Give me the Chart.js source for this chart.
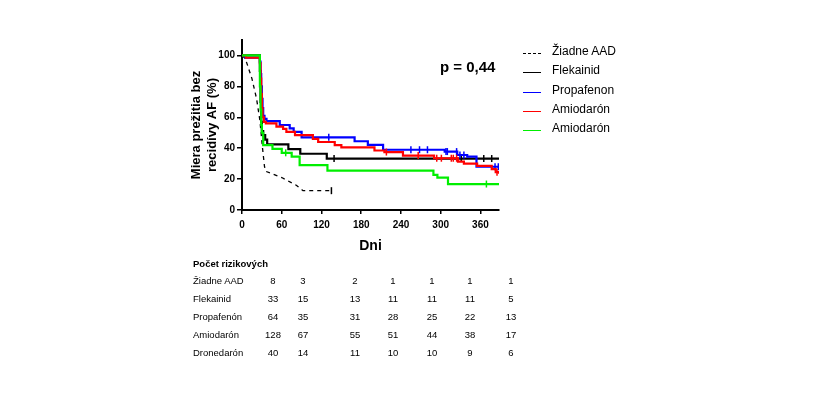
<!DOCTYPE html>
<html lang="sk">
<head>
    <meta charset="UTF-8">
    <title>Miera prežitia bez recidívy AF</title>
    <script src="https://cdn.jsdelivr.net/npm/chart.js"></script>
    <style>
        body {
            margin: 0;
            padding: 0;
            background: #fff;
            font-family: "Liberation Sans", Arial, sans-serif;
        }
        #wrap {
            position: relative;
            width: 821px;
            height: 398px;
        }
        #km {
            position: absolute;
            left: 0;
            top: 0;
        }
        .pval {
            position: absolute;
            left: 440px;
            top: 58px;
            font-size: 15px;
            font-weight: bold;
            color: #000;
        }
        .leg-line {
            position: absolute;
            width: 18px;
            height: 0;
        }
        .leg-text {
            position: absolute;
            font-size: 12px;
            line-height: 14px;
            color: #000;
        }
        .tbl {
            position: absolute;
            font-size: 9.5px;
            line-height: 12px;
            color: #000;
            white-space: nowrap;
        }
        .tbl.num {
            transform: translateX(-50%);
        }
    </style>
</head>
<body>
<div id="wrap">
    <canvas id="km" width="821" height="398"></canvas>
    <div class="pval">p = 0,44</div>
</div>
<script>
    // axis ticks
    const dayTicks = [0, 60, 120, 180, 240, 300, 360];
    const survTicks = [0, 20, 40, 60, 80, 100];

    // legend labels (as printed on the figure)
    const seriesNames = ['Žiadne AAD', 'Flekainid', 'Propafenon', 'Amiodarón', 'Amiodarón'];
    const seriesColors = ['#000000', '#000000', '#0000ff', '#ff0000', '#00ee00'];

    // Žiadne AAD (dashed)
    const aadT = [0, 5, 15, 22, 27, 31, 34, 36, 60, 82, 92, 135];
    const aadS = [100, 98, 85, 72, 58, 40, 28, 25, 21, 16, 12.5, 12.5];
    const aadCens = [135];

    // Flekainid
    const flekT = [0, 27, 28, 29, 30, 32, 35, 38, 70, 88, 128, 388];
    const flekS = [100, 90, 70, 57, 51, 48.5, 45.5, 42.4, 39.4, 36.4, 33.3, 33.3];
    const flekCens = [139, 331, 365, 377];

    // Propafenon
    const propT = [0, 5, 27, 28, 29, 30, 31, 32, 34, 37, 57, 72, 78, 90, 170, 190, 213, 306, 325, 340, 354, 388];
    const propS = [100, 98.5, 96, 88, 80, 72, 66, 61, 59, 57.5, 55, 52.8, 50.6, 47, 44.5, 42.2, 39, 37.8, 35.6, 34.5, 28, 28];
    const propCens = [131, 255, 268, 280, 308, 310, 324, 329, 335, 382, 387];

    // Amiodarón
    const amioT = [0, 6, 27, 28, 29, 30, 31, 33, 36, 52, 62, 67, 80, 107, 115, 140, 150, 200, 215, 243, 290, 326, 335, 355, 377, 383, 388];
    const amioS = [100, 98.5, 95, 85, 75, 66, 60, 57, 56, 54, 52.5, 50.5, 48.5, 46, 44, 42, 40.5, 38.5, 37.5, 35.2, 33.5, 31.3, 30, 28.5, 26.5, 24.5, 23.5];
    const amioCens = [218, 266, 294, 301, 316, 319, 324, 385];

    // Dronedarón (green)
    const droT = [0, 27, 28, 29, 30, 32, 46, 60, 75, 87, 129, 289, 295, 311, 388];
    const droS = [100, 80, 65, 55, 50, 42, 39.5, 37, 34.5, 29, 25.5, 22.7, 21, 16.8, 16.8];
    const droCens = [66, 369];

    // risk table
    const riskTitle = 'Počet rizikových';
    const riskRows = ['Žiadne AAD', 'Flekainid', 'Propafenón', 'Amiodarón', 'Dronedarón'];
    const riskAad = [8, 3, 2, 1, 1, 1, 1];
    const riskFlek = [33, 15, 13, 11, 11, 11, 5];
    const riskProp = [64, 35, 31, 28, 25, 22, 13];
    const riskAmio = [128, 67, 55, 51, 44, 38, 17];
    const riskDro = [40, 14, 11, 10, 10, 9, 6];

    function pts(t, s) {
        return t.map((v, i) => ({ x: v, y: s[i] }));
    }
    // survival value at a censor time
    function censPts(cens, t, s) {
        return cens.map(c => {
            let y = s[0];
            for (let i = 0; i < t.length; i++) if (t[i] <= c) y = s[i];
            return { x: c, y: y };
        });
    }

    const curveSets = [
        [aadT, aadS, aadCens],
        [flekT, flekS, flekCens],
        [propT, propS, propCens],
        [amioT, amioS, amioCens],
        [droT, droS, droCens]
    ];

    const datasets = [];
    curveSets.forEach((c, i) => {
        datasets.push({
            label: seriesNames[i],
            data: pts(c[0], c[1]),
            borderColor: seriesColors[i],
            borderWidth: i === 0 ? 1.3 : 2.2,
            borderDash: i === 0 ? [4, 4] : [],
            stepped: i === 0 ? false : 'before',
            pointRadius: 0,
            fill: false,
            order: 5 - i
        });
        datasets.push({
            label: seriesNames[i] + ' cens',
            data: censPts(c[2], c[0], c[1]),
            showLine: false,
            pointStyle: 'line',
            rotation: 90,
            pointRadius: 3.5,
            pointBorderWidth: 1.5,
            borderColor: seriesColors[i],
            backgroundColor: seriesColors[i],
            order: 5 - i
        });
    });

    new Chart(document.getElementById('km'), {
        type: 'line',
        data: { datasets: datasets },
        options: {
            responsive: false,
            animation: false,
            layout: { padding: { left: 188, right: 322, top: 40, bottom: 143 } },
            plugins: {
                legend: { display: false },
                tooltip: { enabled: false }
            },
            scales: {
                x: {
                    type: 'linear',
                    min: 0,
                    max: 388,
                    afterBuildTicks: s => { s.ticks = dayTicks.map(v => ({ value: v })); },
                    afterFit: s => { s.height = 45; },
                    grid: { drawOnChartArea: false, drawTicks: true, tickLength: 4, color: '#000', lineWidth: 1.5 },
                    border: { color: '#000', width: 2 },
                    ticks: { color: '#000', padding: 5, font: { family: 'Liberation Sans, Arial', size: 10, weight: 'bold' } },
                    title: {
                        display: true,
                        text: 'Dni',
                        color: '#000',
                        padding: { top: 0, bottom: 0 },
                        font: { family: 'Liberation Sans, Arial', size: 14, weight: 'bold' }
                    }
                },
                y: {
                    min: 0,
                    max: 110,
                    afterBuildTicks: s => { s.ticks = survTicks.map(v => ({ value: v })); },
                    afterFit: s => { s.width = 54; },
                    grid: { drawOnChartArea: false, drawTicks: true, tickLength: 5, color: '#000', lineWidth: 1.5 },
                    border: { color: '#000', width: 2 },
                    ticks: { color: '#000', padding: 2, font: { family: 'Liberation Sans, Arial', size: 10, weight: 'bold' } },
                    title: {
                        display: true,
                        text: ['Miera prežitia bez', 'recidívy AF (%)'],
                        color: '#000',
                        padding: { top: 0, bottom: 0 },
                        font: { family: 'Liberation Sans, Arial', size: 13, weight: 'bold', lineHeight: 1.23 }
                    }
                }
            }
        }
    });

    // legend and risk table as page text
    const wrap = document.getElementById('wrap');
    function addDiv(cls, text, css) {
        const d = document.createElement('div');
        d.className = cls;
        if (text !== null) d.textContent = text;
        Object.assign(d.style, css);
        wrap.appendChild(d);
        return d;
    }

    const legRows = [51, 70, 90, 109, 128];
    seriesNames.forEach((name, i) => {
        addDiv('leg-line', null, {
            left: '523px',
            top: (legRows[i] + 2) + 'px',
            borderTop: i === 0 ? '1px dashed #000' : '1.5px solid ' + seriesColors[i]
        });
        addDiv('leg-text', name, { left: '552px', top: (legRows[i] - 7) + 'px' });
    });

    const tblRows = [281, 299, 317, 335, 353];
    const tblCols = [273, 303, 355, 393, 432, 470, 511];
    const riskVals = [riskAad, riskFlek, riskProp, riskAmio, riskDro];
    addDiv('tbl', riskTitle, { left: '193px', top: '258px', fontWeight: 'bold' });
    riskRows.forEach((name, r) => {
        addDiv('tbl', name, { left: '193px', top: (tblRows[r] - 6) + 'px' });
        riskVals[r].forEach((v, c) => {
            addDiv('tbl num', String(v), { left: tblCols[c] + 'px', top: (tblRows[r] - 6) + 'px' });
        });
    });
</script>
</body>
</html>
